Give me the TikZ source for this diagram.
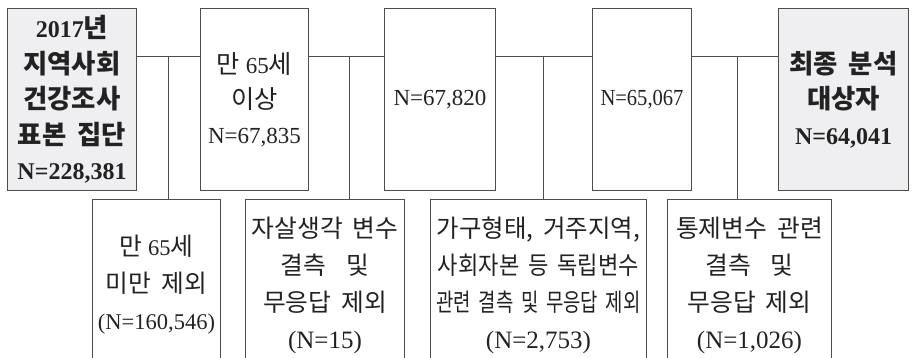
\documentclass[tikz,border=0pt]{standalone}
\usepackage{fontspec}
\setmainfont{Liberation Serif}
\newfontfamily\kr{Noto Sans CJK KR}[Scale=1.1,WordSpace=1.8]
\usepackage{graphicx}
\definecolor{linec}{HTML}{4D4D4D}
\definecolor{textc}{HTML}{222222}
\definecolor{fillc}{HTML}{EFEFF1}
\newcommand{\bignum}[1]{{\fontsize{25}{37}\selectfont #1}}
\tikzset{
  box/.style={draw=linec, line width=1pt, inner sep=0pt, align=center, text=textc, anchor=north west},
  topbox/.style={box, minimum height=182pt, font=\fontsize{23}{35}\selectfont},
  greybox/.style={topbox, fill=fillc, font=\fontsize{24}{35.5}\selectfont\bfseries},
  lowbox/.style={box, minimum height=171pt, font=\fontsize{22.5}{37}\selectfont},
  link/.style={draw=linec, line width=1pt},
}
\begin{document}
\begin{tikzpicture}[x=1pt,y=-1pt]
\useasboundingbox (0,0) rectangle (914,358);
\clip (0,0) rectangle (914,358);
% top row
\node[greybox, minimum width=129pt] (A) at (7,8) {2017{\kr 년}\\{\kr 지역사회}\\{\kr 건강조사}\\{\kr 표본 집단}\\N=228,381};
\node[topbox, minimum width=108pt] (B) at (200,8) {{\kr 만} 65{\kr 세}\\{\kr 이상}\\N=67,835};
\node[topbox, minimum width=111pt] (C) at (384,8) {N=67,820};
\node[topbox, minimum width=99pt] (D) at (592,8) {\resizebox{83pt}{\height}{N=65,067}};
\node[greybox, minimum width=130pt] (E) at (778,8) {{\kr 최종 분석}\\{\kr 대상자}\\N=64,041};
% bottom row
\node[lowbox, minimum width=128pt] (P) at (92,199) {{\kr 만} 65{\kr 세}\\{\kr 미만 제외}\\(N=160,546)};
\node[lowbox, minimum width=159pt] (Q) at (245,199) {{\kr 자살생각 변수}\\{\kr 결측 \ 및}\\{\kr 무응답 제외}\\\bignum{(N=15)}};
\node[lowbox, minimum width=216pt] (R) at (430,199) {\resizebox{203pt}{\height}{\kr 가구형태, 거주지역,}\\\resizebox{201pt}{\height}{\kr 사회자본 등 독립변수}\\\resizebox{204pt}{\height}{\kr 관련 결측 및 무응답 제외}\\\bignum{(N=2,753)}};
\node[lowbox, minimum width=164pt] (S) at (667,199) {{\kr 통제변수 관련}\\{\kr 결측 \ 및}\\{\kr 무응답 제외}\\\bignum{(N=1,026)}};
% connectors
\coordinate (h) at (0,57);
\draw[link] (A.east |- h) -- (B.west |- h);
\draw[link] (B.east |- h) -- (C.west |- h);
\draw[link] (C.east |- h) -- (D.west |- h);
\draw[link] (D.east |- h) -- (E.west |- h);
\coordinate (j1) at (168,57);
\coordinate (j2) at (349,57);
\coordinate (j3) at (543,57);
\coordinate (j4) at (737,57);
\draw[link] (j1) -- (j1 |- P.north);
\draw[link] (j2) -- (j2 |- Q.north);
\draw[link] (j3) -- (j3 |- R.north);
\draw[link] (j4) -- (j4 |- S.north);
\end{tikzpicture}
\end{document}
